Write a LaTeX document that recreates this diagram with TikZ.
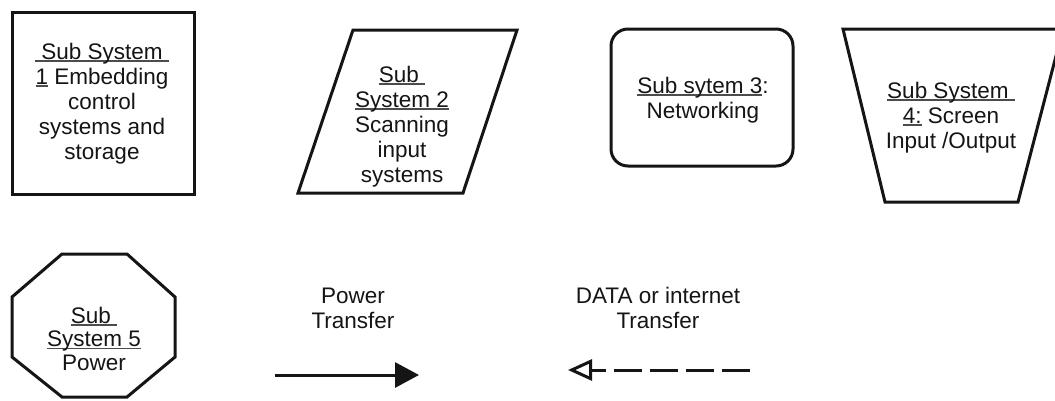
\documentclass[tikz,border=0pt]{standalone}
\usepackage{fontspec}
\setmainfont{Liberation Sans}
\usetikzlibrary{arrows.meta}

% underline drawn just below the baseline, across descenders
\newsavebox\ulinebox
\newcommand\ulx[1]{\sbox\ulinebox{#1}\rlap{\color{black!70}\rule[-2.8pt]{\wd\ulinebox}{1.5pt}}\usebox\ulinebox}

\definecolor{ink}{HTML}{151515}

\tikzset{
  outline/.style={draw=ink, line width=3pt, line join=miter},
  label/.style={text=ink, align=center, anchor=base, inner sep=0pt,
                font=\fontsize{22.5}{25}\selectfont},
  power/.style={draw=ink, line width=3pt,
                -{Triangle[length=24pt,width=25pt]}},
  data/.style={draw=ink, line width=3pt, dash pattern=on 28pt off 8pt,
               -{Triangle[open,fill=white,length=24pt,width=21pt,line width=3pt]}}
}

\begin{document}
\begin{tikzpicture}[x=1pt,y=-1pt]
  \useasboundingbox (0,0) rectangle (1055,400);
  \clip (0,0) rectangle (1055,400);
  \fill[white] (0,0) rectangle (1055,400);

  % sub system 1: plain box
  \draw[outline] (12,12) rectangle (194,194);
  \node[label] (s1) at (102,159)
    {\ulx{\ Sub System\ }\\ \ulx{1} Embedding\\ control\\ systems and\\ storage};

  % sub system 2: parallelogram
  \draw[outline] (353,30) -- (517,30) -- (463,193) -- (298,193) -- cycle;
  \node[label] (s2) at (402,182)
    {\ulx{Sub\ }\\ \ulx{System 2}\\ Scanning\\ input\\ systems};

  % sub system 3: rounded box
  \draw[outline, rounded corners=17pt] (611,29) rectangle (793,166);
  \node[label] (s3) at (703,118) {\ulx{Sub sytem 3}:\\ Networking};

  % sub system 4: inverted trapezium
  \draw[outline] (843,29) -- (1063,29) -- (1018,202) -- (885,202) -- cycle;
  \node[label] (s4) at (951,148)
    {\ulx{Sub System\ }\\ \ulx{4:} Screen\\ Input /Output};

  % sub system 5: octagon
  \draw[outline] (62,254) -- (127,254) -- (175,297) -- (175,357)
    -- (127,397) -- (62,397) -- (12,357) -- (12,297) -- cycle;
  \node[label, font=\fontsize{22.5}{23.5}\selectfont] (s5) at (94,370)
    {\ulx{Sub\ }\\ \ulx{System 5}\\ Power};

  % legend: power transfer
  \node[label] (lp) at (353,328) {Power\\ Transfer};
  \coordinate (pa) at (275,375);
  \coordinate (pb) at (419,375);
  \draw[power] (pa) -- (pb);

  % legend: data transfer
  \node[label] (ld) at (658,328) {DATA or internet\\ Transfer};
  \coordinate (da) at (750,370);
  \coordinate (db) at (568,370);
  \draw[data] (da) -- (db);
\end{tikzpicture}
\end{document}
